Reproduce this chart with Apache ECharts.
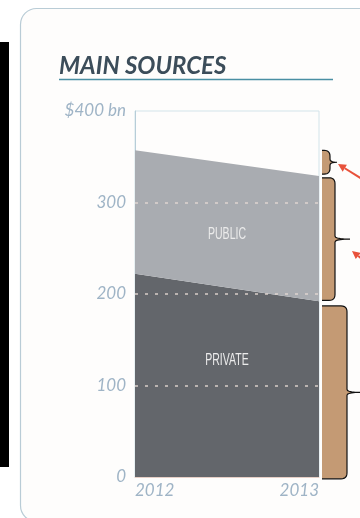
<!DOCTYPE html>
<html><head><meta charset="utf-8">
<script src="https://cdn.jsdelivr.net/npm/echarts@6/dist/echarts.min.js"></script>
<style>html,body{margin:0;padding:0;background:#fff}#c{width:360px;height:518px}</style>
</head><body><div id="c"></div>
<script>
// ---- data ----
const years = ['2012', '2013'];
const privateVals = [222, 192];
const publicVals = [135, 137];          // stacked on private: totals 357, 329
const yTicks = [0, 100, 200, 300, 400];
const gridLines = [100, 200, 300];
const layerNames = ['PUBLIC', 'PRIVATE'];
const layerLabelValues = [265, 128];
const bracketRanges = [[331, 357], [193, 327], [-2, 187]];
const titleText = 'MAIN SOURCES';

const chart = echarts.init(document.getElementById('c'), null, {renderer: 'canvas'});
const labelColor = '#9fb4c6';
const labelFont = 'Lato, "Open Sans", sans-serif';

chart.setOption({
  animation: false,
  grid: {left: 135, right: 41, top: 111, bottom: 41, show: true, borderColor: '#d3e4ea', borderWidth: 1},
  xAxis: {
    type: 'category', data: years, boundaryGap: false,
    axisLine: {lineStyle: {color: '#e6cfc6', width: 1}},
    axisTick: {show: false},
    axisLabel: {color: labelColor, fontStyle: 'italic', fontFamily: labelFont, fontSize: 17, margin: 5,
      alignMinLabel: 'left', alignMaxLabel: 'right'}
  },
  yAxis: {
    type: 'value', min: yTicks[0], max: yTicks[yTicks.length - 1], interval: 100,
    axisLine: {show: true, lineStyle: {color: '#b7cdd8'}},
    axisTick: {show: false},
    splitLine: {show: false},
    axisLabel: {color: labelColor, fontStyle: 'italic', fontFamily: labelFont, fontSize: 17, margin: 9,
      formatter: v => v === 400 ? '$400 bn' : String(v)}
  },
  series: [
    {name: 'Private', type: 'line', stack: 's', data: privateVals, symbol: 'none',
      lineStyle: {width: 0}, areaStyle: {color: '#63666b', opacity: 1}, z: 2},
    {name: 'Public', type: 'line', stack: 's', data: publicVals, symbol: 'none',
      lineStyle: {width: 0}, areaStyle: {color: '#a9acb1', opacity: 1}, z: 2,
      markLine: {silent: true, symbol: 'none', label: {show: false},
        lineStyle: {color: '#e4d8d4', type: [3, 7], width: 1.5, opacity: 0.9},
        data: gridLines.map(v => ({yAxis: v}))}}
  ]
});

function quad(p0, p1, p2, n) {
  const out = [];
  for (let i = 1; i <= n; i++) {
    const t = i / n, u = 1 - t;
    out.push([u * u * p0[0] + 2 * u * t * p1[0] + t * t * p2[0], u * u * p0[1] + 2 * u * t * p1[1] + t * t * p2[1]]);
  }
  return out;
}

function drawDecor() {
  const px = (xi, v) => chart.convertToPixel({gridIndex: 0}, [xi, v]);
  const g = [];
  // panel
  g.push({type: 'rect', z: -10, silent: true, shape: {x: 20.5, y: 8.5, width: 380, height: 513, r: 16},
    style: {fill: '#fefdfc', stroke: '#b9ccd6', lineWidth: 1.2}});
  g.push({type: 'rect', z: -9, silent: true, shape: {x: 0, y: 42, width: 9, height: 425}, style: {fill: '#000'}});
  // title
  g.push({type: 'text', z: 10, style: {text: titleText, x: 59, y: 66, textVerticalAlign: 'middle',
    font: 'italic bold 24px Lato, "Open Sans", sans-serif', fill: '#3c4d5a'}});
  g.push({type: 'line', z: 10, shape: {x1: 59, y1: 79.5, x2: 333, y2: 79.5}, style: {stroke: '#4a8fa3', lineWidth: 1.5}});
  // layer labels
  const midX = (px(0, 0)[0] + px(1, 0)[0]) / 2;
  layerNames.forEach((n, i) => {
    const y = px(0, layerLabelValues[i])[1];
    g.push({type: 'text', z: 20, x: midX, y: y, scaleX: 0.62,
      style: {text: n, x: 0, y: 0, textAlign: 'center', textVerticalAlign: 'middle',
      font: '500 17px "Liberation Sans", Arial, sans-serif', fill: '#ebebeb'}});
  });
  // brackets
  const xr = px(1, 0)[0];
  const widths = [8, 13, 25], tips = [7, 15, 13];
  bracketRanges.forEach((r, i) => {
    const y1 = px(1, r[1])[1], y2 = px(1, r[0])[1];
    const x0 = xr + 3, w = widths[i], t = tips[i], ym = (y1 + y2) / 2, rr = Math.min(6, (y2 - y1) / 4);
    const xe = x0 + w;
    let pts = [[x0, y1], [xe - rr, y1]];
    pts = pts.concat(quad([xe - rr, y1], [xe, y1], [xe, y1 + rr], 6));
    pts.push([xe, ym - 3]);
    pts = pts.concat(quad([xe, ym - 3], [xe, ym], [xe + t, ym], 5));
    pts = pts.concat(quad([xe + t, ym], [xe, ym], [xe, ym + 3], 5));
    pts.push([xe, y2 - rr]);
    pts = pts.concat(quad([xe, y2 - rr], [xe, y2], [xe - rr, y2], 6));
    pts.push([x0, y2]);
    g.push({type: 'polygon', z: 15, shape: {points: pts}, style: {fill: '#c49a74'}});
    g.push({type: 'polyline', z: 16, shape: {points: pts}, style: {fill: null, stroke: '#111', lineWidth: 1.2}});
  });
  // red arrows
  const arrows = [[[362, 179], [338, 164]], [[362, 259], [352, 251]]];
  arrows.forEach(a => {
    const [s, e] = a;
    const ang = Math.atan2(e[1] - s[1], e[0] - s[0]);
    const L = 8, W = 4;
    const bx = e[0] - L * Math.cos(ang), by = e[1] - L * Math.sin(ang);
    g.push({type: 'line', z: 17, shape: {x1: s[0], y1: s[1], x2: bx, y2: by}, style: {stroke: '#e8523b', lineWidth: 2}});
    g.push({type: 'polygon', z: 17, shape: {points: [e,
      [bx + W * Math.sin(ang), by - W * Math.cos(ang)], [bx - W * Math.sin(ang), by + W * Math.cos(ang)]]},
      style: {fill: '#e8523b'}});
  });
  chart.setOption({graphic: g});
}
drawDecor();
</script></body></html>
